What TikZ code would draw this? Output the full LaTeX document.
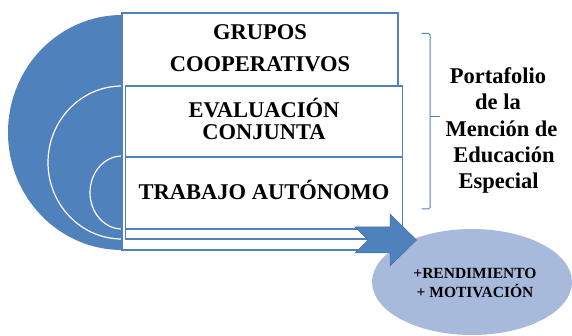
\documentclass[tikz,border=0pt]{standalone}
\usepackage{fontspec}
\setmainfont{Liberation Serif}
\usetikzlibrary{shapes.geometric}
\definecolor{accblue}{RGB}{79,129,189}
\definecolor{ellblue}{RGB}{167,186,220}
\tikzset{
  boxline/.style={draw=accblue, line width=1.1pt, fill=white},
  arcline/.style={draw=white, line width=1.2pt, fill=accblue},
  bigtxt/.style={font=\fontsize{22.5}{27}\selectfont\bfseries, inner sep=0pt, anchor=base},
  smalltxt/.style={font=\fontsize{15.5}{19}\selectfont\bfseries, inner sep=0pt, anchor=base},
}
\begin{document}
\begin{tikzpicture}[x=1pt,y=-1pt]
\useasboundingbox (0,0) rectangle (572,336);
% nested half discs
\fill[accblue] (122,15) arc[start angle=270,end angle=90,x radius=114,y radius=117.5] -- cycle;
\path[arcline] (122,86) arc[start angle=270,end angle=90,x radius=74,y radius=76.5];
\path[arcline] (122,156) arc[start angle=270,end angle=90,x radius=32,y radius=36.5];
% boxes
\path[boxline] (122,13) rectangle (398,250);
\path[boxline] (125.5,86) rectangle (402.5,239);
\path[boxline] (125.5,157) rectangle (402.5,229);
% box texts
\node[bigtxt] (g1) at (260,39.3) {GRUPOS};
\node[bigtxt] (g2) at (260,72) {COOPERATIVOS};
\node[bigtxt] (e1) at (264,117.7) {EVALUACIÓN};
\node[bigtxt] (e2) at (264,140) {CONJUNTA};
\node[bigtxt] (t1) at (264,200) {TRABAJO AUTÓNOMO};
% result ellipse
\node[ellipse, fill=ellblue, minimum width=200pt, minimum height=106pt, inner sep=0pt] (res) at (472,282) {};
\node[smalltxt] (r1) at (475,278) {+RENDIMIENTO};
\node[smalltxt] (r2) at (475,297) {+ MOTIVACIÓN};
% notched arrow
\filldraw[fill=accblue, draw=accblue!85!black, line width=0.5pt]
  (355,227) -- (390,227) -- (390,214) -- (416.5,240) -- (390,266) -- (390,253) -- (355,253) -- (368,240) -- cycle;
% bracket
\draw[accblue, line width=1pt, rounded corners=1.5pt] (421.7,33.5) -- (430,33.5) -- (430,209) -- (421.7,209);
\coordinate (bk) at (430,117);
\coordinate (bt) at (440,117);
\draw[accblue, line width=1pt] (bk) -- (bt);
% portfolio text
\node[bigtxt] (p1) at (498,83.3) {Portafolio};
\node[bigtxt] (p2) at (498,110) {de la};
\node[bigtxt] (p3) at (501.5,136.7) {Mención de};
\node[bigtxt] (p4) at (504,162.3) {Educación};
\node[bigtxt] (p5) at (498.5,188.3) {Especial};
\end{tikzpicture}
\end{document}
